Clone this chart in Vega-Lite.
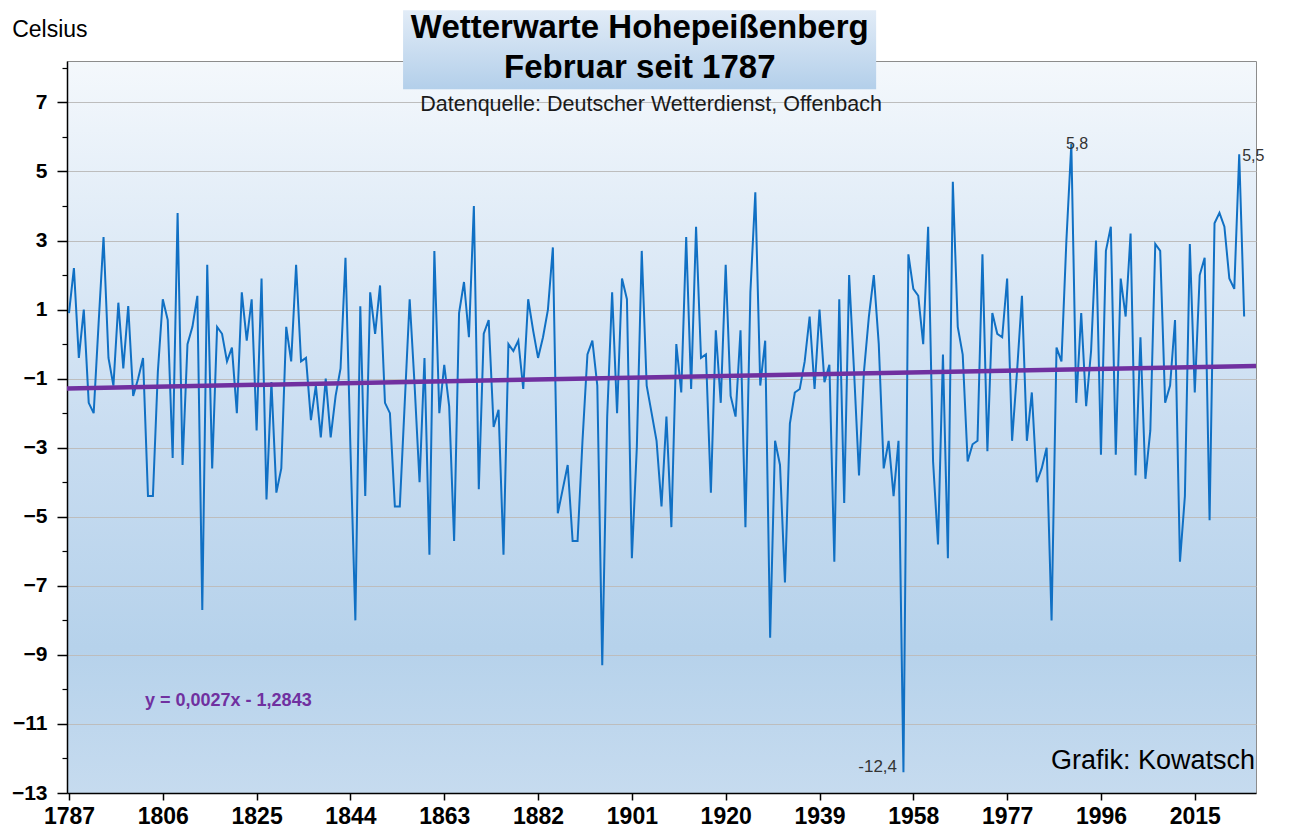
{
  "$schema": "https://vega.github.io/schema/vega-lite/v6.json",
  "width": 1189,
  "height": 732,
  "autosize": {"type": "none"},
  "padding": {"left": 67, "top": 61, "right": 35, "bottom": 42},
  "background": "white",
  "config": {
    "view": {
      "fill": {"gradient": "linear", "x1": 0, "y1": 0, "x2": 0, "y2": 1,
        "stops": [{"offset": 0, "color": "#f4f8fc"}, {"offset": 0.5, "color": "#c9ddf1"}, {"offset": 0.8, "color": "#b6d2eb"}, {"offset": 1, "color": "#c6dbef"}]},
      "stroke": "#8c8c8c",
      "strokeWidth": 1
    },
    "font": "Liberation Sans"
  },
  "resolve": {"axis": {"y": "independent"}, "scale": {"y": "shared", "x": "shared"}},
  "datasets": {
    "feb": [
      {"year":1787,"t":0.9},{"year":1788,"t":2.2},{"year":1789,"t":-0.4},{"year":1790,"t":1.0},{"year":1791,"t":-1.7},{"year":1792,"t":-2.0},{"year":1793,"t":0.6},{"year":1794,"t":3.1},{"year":1795,"t":-0.4},{"year":1796,"t":-1.2},
      {"year":1797,"t":1.2},{"year":1798,"t":-0.7},{"year":1799,"t":1.1},{"year":1800,"t":-1.5},{"year":1801,"t":-1.0},{"year":1802,"t":-0.4},{"year":1803,"t":-4.4},{"year":1804,"t":-4.4},{"year":1805,"t":-0.8},{"year":1806,"t":1.3},
      {"year":1807,"t":0.7},{"year":1808,"t":-3.3},{"year":1809,"t":3.8},{"year":1810,"t":-3.5},{"year":1811,"t":0.0},{"year":1812,"t":0.5},{"year":1813,"t":1.4},{"year":1814,"t":-7.7},{"year":1815,"t":2.3},{"year":1816,"t":-3.6},
      {"year":1817,"t":0.5},{"year":1818,"t":0.3},{"year":1819,"t":-0.5},{"year":1820,"t":-0.1},{"year":1821,"t":-2.0},{"year":1822,"t":1.5},{"year":1823,"t":0.1},{"year":1824,"t":1.3},{"year":1825,"t":-2.5},{"year":1826,"t":1.9},
      {"year":1827,"t":-4.5},{"year":1828,"t":-1.1},{"year":1829,"t":-4.3},{"year":1830,"t":-3.6},{"year":1831,"t":0.5},{"year":1832,"t":-0.5},{"year":1833,"t":2.3},{"year":1834,"t":-0.5},{"year":1835,"t":-0.4},{"year":1836,"t":-2.2},
      {"year":1837,"t":-1.2},{"year":1838,"t":-2.7},{"year":1839,"t":-1.0},{"year":1840,"t":-2.7},{"year":1841,"t":-1.5},{"year":1842,"t":-0.7},{"year":1843,"t":2.5},{"year":1844,"t":-3.0},{"year":1845,"t":-8.0},{"year":1846,"t":1.1},
      {"year":1847,"t":-4.4},{"year":1848,"t":1.5},{"year":1849,"t":0.3},{"year":1850,"t":1.7},{"year":1851,"t":-1.7},{"year":1852,"t":-2.0},{"year":1853,"t":-4.7},{"year":1854,"t":-4.7},{"year":1855,"t":-1.7},{"year":1856,"t":1.3},
      {"year":1857,"t":-1.2},{"year":1858,"t":-4.0},{"year":1859,"t":-0.4},{"year":1860,"t":-6.1},{"year":1861,"t":2.7},{"year":1862,"t":-2.0},{"year":1863,"t":-0.6},{"year":1864,"t":-1.8},{"year":1865,"t":-5.7},{"year":1866,"t":0.9},
      {"year":1867,"t":1.8},{"year":1868,"t":0.2},{"year":1869,"t":4.0},{"year":1870,"t":-4.2},{"year":1871,"t":0.3},{"year":1872,"t":0.7},{"year":1873,"t":-2.4},{"year":1874,"t":-1.9},{"year":1875,"t":-6.1},{"year":1876,"t":0.0},
      {"year":1877,"t":-0.2},{"year":1878,"t":0.1},{"year":1879,"t":-1.3},{"year":1880,"t":1.3},{"year":1881,"t":0.4},{"year":1882,"t":-0.4},{"year":1883,"t":0.2},{"year":1884,"t":1.0},{"year":1885,"t":2.8},{"year":1886,"t":-4.9},
      {"year":1887,"t":-4.2},{"year":1888,"t":-3.5},{"year":1889,"t":-5.7},{"year":1890,"t":-5.7},{"year":1891,"t":-2.8},{"year":1892,"t":-0.3},{"year":1893,"t":0.1},{"year":1894,"t":-1.2},{"year":1895,"t":-9.3},{"year":1896,"t":-2.1},
      {"year":1897,"t":1.5},{"year":1898,"t":-2.0},{"year":1899,"t":1.9},{"year":1900,"t":1.3},{"year":1901,"t":-6.2},{"year":1902,"t":-3.0},{"year":1903,"t":2.7},{"year":1904,"t":-1.2},{"year":1905,"t":-2.0},{"year":1906,"t":-2.8},
      {"year":1907,"t":-4.7},{"year":1908,"t":-2.1},{"year":1909,"t":-5.3},{"year":1910,"t":0.0},{"year":1911,"t":-1.4},{"year":1912,"t":3.1},{"year":1913,"t":-1.3},{"year":1914,"t":3.4},{"year":1915,"t":-0.4},{"year":1916,"t":-0.3},
      {"year":1917,"t":-4.3},{"year":1918,"t":0.4},{"year":1919,"t":-1.7},{"year":1920,"t":2.3},{"year":1921,"t":-1.5},{"year":1922,"t":-2.1},{"year":1923,"t":0.4},{"year":1924,"t":-5.3},{"year":1925,"t":1.5},{"year":1926,"t":4.4},
      {"year":1927,"t":-1.2},{"year":1928,"t":0.1},{"year":1929,"t":-8.5},{"year":1930,"t":-2.8},{"year":1931,"t":-3.5},{"year":1932,"t":-6.9},{"year":1933,"t":-2.3},{"year":1934,"t":-1.4},{"year":1935,"t":-1.3},{"year":1936,"t":-0.5},
      {"year":1937,"t":0.8},{"year":1938,"t":-1.3},{"year":1939,"t":1.0},{"year":1940,"t":-1.1},{"year":1941,"t":-0.6},{"year":1942,"t":-6.3},{"year":1943,"t":1.3},{"year":1944,"t":-4.6},{"year":1945,"t":2.0},{"year":1946,"t":-0.8},
      {"year":1947,"t":-3.8},{"year":1948,"t":-0.8},{"year":1949,"t":0.8},{"year":1950,"t":2.0},{"year":1951,"t":0.0},{"year":1952,"t":-3.6},{"year":1953,"t":-2.8},{"year":1954,"t":-4.4},{"year":1955,"t":-2.8},{"year":1956,"t":-12.4},
      {"year":1957,"t":2.6},{"year":1958,"t":1.6},{"year":1959,"t":1.4},{"year":1960,"t":0.0},{"year":1961,"t":3.4},{"year":1962,"t":-3.4},{"year":1963,"t":-5.8},{"year":1964,"t":-0.3},{"year":1965,"t":-6.2},{"year":1966,"t":4.7},
      {"year":1967,"t":0.5},{"year":1968,"t":-0.3},{"year":1969,"t":-3.4},{"year":1970,"t":-2.9},{"year":1971,"t":-2.8},{"year":1972,"t":2.6},{"year":1973,"t":-3.1},{"year":1974,"t":0.9},{"year":1975,"t":0.3},{"year":1976,"t":0.2},
      {"year":1977,"t":1.9},{"year":1978,"t":-2.8},{"year":1979,"t":-0.8},{"year":1980,"t":1.4},{"year":1981,"t":-2.8},{"year":1982,"t":-1.4},{"year":1983,"t":-4.0},{"year":1984,"t":-3.6},{"year":1985,"t":-3.0},{"year":1986,"t":-8.0},
      {"year":1987,"t":-0.1},{"year":1988,"t":-0.5},{"year":1989,"t":3.0},{"year":1990,"t":5.8},{"year":1991,"t":-1.7},{"year":1992,"t":0.9},{"year":1993,"t":-1.8},{"year":1994,"t":-0.2},{"year":1995,"t":3.0},{"year":1996,"t":-3.2},
      {"year":1997,"t":2.7},{"year":1998,"t":3.4},{"year":1999,"t":-3.2},{"year":2000,"t":1.9},{"year":2001,"t":0.8},{"year":2002,"t":3.2},{"year":2003,"t":-3.8},{"year":2004,"t":0.2},{"year":2005,"t":-3.9},{"year":2006,"t":-2.5},
      {"year":2007,"t":2.9},{"year":2008,"t":2.7},{"year":2009,"t":-1.7},{"year":2010,"t":-1.2},{"year":2011,"t":0.7},{"year":2012,"t":-6.3},{"year":2013,"t":-4.4},{"year":2014,"t":2.9},{"year":2015,"t":-1.4},{"year":2016,"t":2.0},
      {"year":2017,"t":2.5},{"year":2018,"t":-5.1},{"year":2019,"t":3.5},{"year":2020,"t":3.8},{"year":2021,"t":3.4},{"year":2022,"t":1.9},{"year":2023,"t":1.6},{"year":2024,"t":5.5},{"year":2025,"t":0.8}
    ],
    "trend": [
      {"year": 1786.6, "t": -1.2827},
      {"year": 2027.4, "t": -0.632}
    ],
    "box": [
      {"x": 1854.66, "x2": 1950.47, "y": 9.67, "y2": 7.38}
    ],
    "notes": [
      {"kind": "title", "x": 1902.6, "y": 8.86, "label": "Wetterwarte Hohepeißenberg"},
      {"kind": "title", "x": 1902.6, "y": 7.72, "label": "Februar seit 1787"},
      {"kind": "sub", "x": 1904.9, "y": 6.76, "label": "Datenquelle: Deutscher Wetterdienst, Offenbach"},
      {"kind": "celsius", "x": 1775.5, "y": 9.09, "label": "Celsius"},
      {"kind": "eq", "x": 1802.4, "y": -10.34, "label": "y = 0,0027x - 1,2843"},
      {"kind": "credit", "x": 2027.2, "y": -12.07, "label": "Grafik: Kowatsch"},
      {"kind": "pk", "x": 1988.9, "y": 5.8, "label": "5,8"},
      {"kind": "pk", "x": 2024.6, "y": 5.44, "label": "5,5"},
      {"kind": "pkr", "x": 1954.7, "y": -12.25, "label": "-12,4"}
    ]
  },
  "layer": [
    {
      "data": {"name": "feb"},
      "mark": {"type": "line", "color": "#1070c4", "strokeWidth": 2},
      "encoding": {
        "x": {
          "field": "year", "type": "quantitative",
          "scale": {"domain": [1786.6, 2027.4], "nice": false, "zero": false},
          "axis": {
            "values": [1787, 1806, 1825, 1844, 1863, 1882, 1901, 1920, 1939, 1958, 1977, 1996, 2015],
            "format": "d", "title": null, "grid": false,
            "domainColor": "#000000", "domainWidth": 1.5,
            "tickColor": "#000000", "tickSize": 7, "tickWidth": 1.5,
            "labelFont": "Liberation Sans", "labelFontSize": 23, "labelFontWeight": "bold",
            "labelColor": "#000000", "labelPadding": 5, "labelFlush": false, "labelOverlap": false
          }
        },
        "y": {
          "field": "t", "type": "quantitative",
          "scale": {"domain": [-13, 8.2], "nice": false, "zero": false},
          "axis": {
            "orient": "left",
            "values": [-13, -11, -9, -7, -5, -3, -1, 1, 3, 5, 7],
            "title": null, "grid": true, "gridColor": "#bdbdbd", "gridWidth": 1,
            "domainColor": "#000000", "domainWidth": 1.5,
            "tickColor": "#000000", "tickSize": 10, "tickWidth": 1.5,
            "labelFont": "Liberation Sans", "labelFontSize": 21, "labelFontWeight": "bold",
            "labelColor": "#000000", "labelPadding": 10, "labelFlush": false, "labelOverlap": false
          }
        }
      }
    },
    {
      "data": {"name": "trend"},
      "mark": {"type": "line", "color": "#7030a0", "strokeWidth": 4.5},
      "encoding": {
        "x": {"field": "year", "type": "quantitative"},
        "y": {
          "field": "t", "type": "quantitative",
          "axis": {
            "orient": "left",
            "values": [-12, -10, -8, -6, -4, -2, 0, 2, 4, 6, 8],
            "labels": false, "title": null, "grid": false, "domain": false,
            "tickColor": "#000000", "tickSize": 5, "tickWidth": 1.2
          }
        }
      }
    },
    {
      "data": {"name": "box"},
      "mark": {"type": "rect", "fill": {"gradient": "linear", "x1": 0, "y1": 0, "x2": 0, "y2": 1,
        "stops": [{"offset": 0, "color": "#e2ecf7"}, {"offset": 1, "color": "#b3cfea"}]}},
      "encoding": {
        "x": {"field": "x", "type": "quantitative"},
        "x2": {"field": "x2"},
        "y": {"field": "y", "type": "quantitative", "axis": null},
        "y2": {"field": "y2"}
      }
    },
    {
      "data": {"name": "notes"},
      "transform": [{"filter": "datum.kind == 'title'"}],
      "mark": {"type": "text", "font": "Liberation Sans", "fontSize": 33, "fontWeight": "bold", "color": "#000000", "align": "center", "baseline": "alphabetic"},
      "encoding": {
        "x": {"field": "x", "type": "quantitative"},
        "y": {"field": "y", "type": "quantitative", "axis": null},
        "text": {"field": "label"}
      }
    },
    {
      "data": {"name": "notes"},
      "transform": [{"filter": "datum.kind == 'sub'"}],
      "mark": {"type": "text", "font": "Liberation Sans", "fontSize": 21.5, "color": "#1a1a1a", "align": "center", "baseline": "alphabetic"},
      "encoding": {
        "x": {"field": "x", "type": "quantitative"},
        "y": {"field": "y", "type": "quantitative", "axis": null},
        "text": {"field": "label"}
      }
    },
    {
      "data": {"name": "notes"},
      "transform": [{"filter": "datum.kind == 'celsius'"}],
      "mark": {"type": "text", "font": "Liberation Sans", "fontSize": 23, "color": "#000000", "align": "left", "baseline": "middle"},
      "encoding": {
        "x": {"field": "x", "type": "quantitative"},
        "y": {"field": "y", "type": "quantitative", "axis": null},
        "text": {"field": "label"}
      }
    },
    {
      "data": {"name": "notes"},
      "transform": [{"filter": "datum.kind == 'eq'"}],
      "mark": {"type": "text", "font": "Liberation Sans", "fontSize": 18, "fontWeight": "bold", "color": "#7030a0", "align": "left", "baseline": "middle"},
      "encoding": {
        "x": {"field": "x", "type": "quantitative"},
        "y": {"field": "y", "type": "quantitative", "axis": null},
        "text": {"field": "label"}
      }
    },
    {
      "data": {"name": "notes"},
      "transform": [{"filter": "datum.kind == 'credit'"}],
      "mark": {"type": "text", "font": "Liberation Sans", "fontSize": 27, "color": "#000000", "align": "right", "baseline": "middle"},
      "encoding": {
        "x": {"field": "x", "type": "quantitative"},
        "y": {"field": "y", "type": "quantitative", "axis": null},
        "text": {"field": "label"}
      }
    },
    {
      "data": {"name": "notes"},
      "transform": [{"filter": "datum.kind == 'pk'"}],
      "mark": {"type": "text", "font": "Liberation Sans", "fontSize": 16, "color": "#333333", "align": "left", "baseline": "middle"},
      "encoding": {
        "x": {"field": "x", "type": "quantitative"},
        "y": {"field": "y", "type": "quantitative", "axis": null},
        "text": {"field": "label"}
      }
    },
    {
      "data": {"name": "notes"},
      "transform": [{"filter": "datum.kind == 'pkr'"}],
      "mark": {"type": "text", "font": "Liberation Sans", "fontSize": 17, "color": "#333333", "align": "right", "baseline": "middle"},
      "encoding": {
        "x": {"field": "x", "type": "quantitative"},
        "y": {"field": "y", "type": "quantitative", "axis": null},
        "text": {"field": "label"}
      }
    }
  ]
}
